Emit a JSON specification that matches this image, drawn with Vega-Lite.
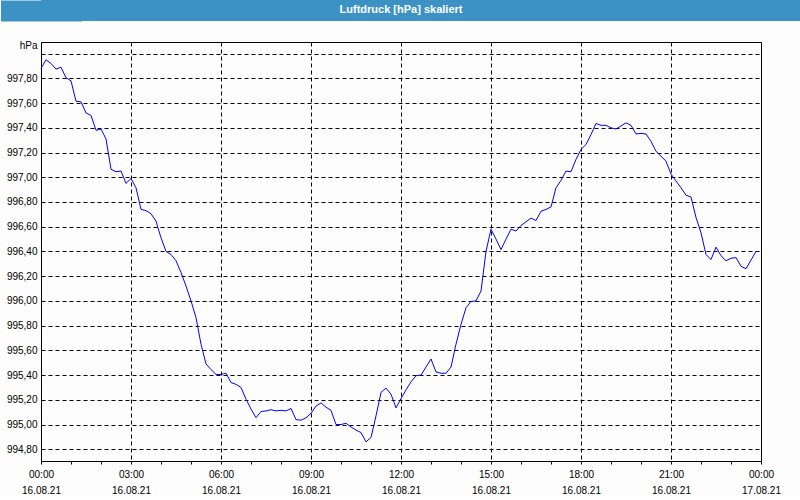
{
  "$schema": "https://vega.github.io/schema/vega-lite/v6.json",
  "padding": 0,
  "spacing": 18,
  "background": "#fcfdfc",
  "config": {"view": {"stroke": "#000", "strokeWidth": 1}},
  "vconcat": [
    {
      "width": 760,
      "height": 21,
      "view": {"stroke": null},
      "data": {"values": [{"title": "Luftdruck [hPa] skaliert"}]},
      "layer": [
        {"mark": {"type": "rect", "color": "#3d92c5"}, "encoding": {}},
        {"mark": {"type": "text", "color": "#ffffff", "font": "Liberation Sans", "fontSize": 11, "fontWeight": "bold", "align": "center", "baseline": "middle", "dx": -20, "dy": -1},
         "encoding": {
           "text": {"field": "title"},
           "y": {"field": "title", "type": "nominal", "axis": {"title": null, "labels": false, "ticks": false, "grid": false, "domain": true, "domainColor": "#3d92c5", "domainWidth": 81, "domainCap": "butt", "domainOpacity": 1}}
         }}
      ]
    },
    {
      "width": 720,
      "height": 419,
      "data": {"values": [
        {"t":"2021-08-16T00:00:00Z","p":997.88},{"t":"2021-08-16T00:10:00Z","p":997.95},{"t":"2021-08-16T00:20:00Z","p":997.92},{"t":"2021-08-16T00:30:00Z","p":997.875},{"t":"2021-08-16T00:40:00Z","p":997.89},{"t":"2021-08-16T00:50:00Z","p":997.805},
        {"t":"2021-08-16T01:00:00Z","p":997.78},{"t":"2021-08-16T01:10:00Z","p":997.615},{"t":"2021-08-16T01:20:00Z","p":997.61},{"t":"2021-08-16T01:30:00Z","p":997.52},{"t":"2021-08-16T01:40:00Z","p":997.5},{"t":"2021-08-16T01:50:00Z","p":997.38},
        {"t":"2021-08-16T02:00:00Z","p":997.39},{"t":"2021-08-16T02:10:00Z","p":997.31},{"t":"2021-08-16T02:20:00Z","p":997.065},{"t":"2021-08-16T02:30:00Z","p":997.045},{"t":"2021-08-16T02:40:00Z","p":997.05},{"t":"2021-08-16T02:50:00Z","p":996.95},
        {"t":"2021-08-16T03:00:00Z","p":996.99},{"t":"2021-08-16T03:10:00Z","p":996.915},{"t":"2021-08-16T03:20:00Z","p":996.74},{"t":"2021-08-16T03:30:00Z","p":996.73},{"t":"2021-08-16T03:40:00Z","p":996.705},{"t":"2021-08-16T03:50:00Z","p":996.645},
        {"t":"2021-08-16T04:00:00Z","p":996.51},{"t":"2021-08-16T04:10:00Z","p":996.4},{"t":"2021-08-16T04:20:00Z","p":996.375},{"t":"2021-08-16T04:30:00Z","p":996.325},{"t":"2021-08-16T04:40:00Z","p":996.23},{"t":"2021-08-16T04:50:00Z","p":996.12},
        {"t":"2021-08-16T05:00:00Z","p":996.0},{"t":"2021-08-16T05:10:00Z","p":995.865},{"t":"2021-08-16T05:20:00Z","p":995.65},{"t":"2021-08-16T05:30:00Z","p":995.49},{"t":"2021-08-16T05:40:00Z","p":995.445},{"t":"2021-08-16T05:50:00Z","p":995.405},
        {"t":"2021-08-16T06:00:00Z","p":995.405},{"t":"2021-08-16T06:10:00Z","p":995.415},{"t":"2021-08-16T06:20:00Z","p":995.34},{"t":"2021-08-16T06:30:00Z","p":995.325},{"t":"2021-08-16T06:40:00Z","p":995.3},{"t":"2021-08-16T06:50:00Z","p":995.205},
        {"t":"2021-08-16T07:00:00Z","p":995.125},{"t":"2021-08-16T07:10:00Z","p":995.055},{"t":"2021-08-16T07:20:00Z","p":995.105},{"t":"2021-08-16T07:30:00Z","p":995.11},{"t":"2021-08-16T07:40:00Z","p":995.12},{"t":"2021-08-16T07:50:00Z","p":995.11},
        {"t":"2021-08-16T08:00:00Z","p":995.115},{"t":"2021-08-16T08:10:00Z","p":995.11},{"t":"2021-08-16T08:20:00Z","p":995.13},{"t":"2021-08-16T08:30:00Z","p":995.04},{"t":"2021-08-16T08:40:00Z","p":995.035},{"t":"2021-08-16T08:50:00Z","p":995.055},
        {"t":"2021-08-16T09:00:00Z","p":995.09},{"t":"2021-08-16T09:10:00Z","p":995.15},{"t":"2021-08-16T09:20:00Z","p":995.175},{"t":"2021-08-16T09:30:00Z","p":995.14},{"t":"2021-08-16T09:40:00Z","p":995.115},{"t":"2021-08-16T09:50:00Z","p":995.0},
        {"t":"2021-08-16T10:00:00Z","p":995.0},{"t":"2021-08-16T10:10:00Z","p":995.01},{"t":"2021-08-16T10:20:00Z","p":994.98},{"t":"2021-08-16T10:30:00Z","p":994.955},{"t":"2021-08-16T10:40:00Z","p":994.935},{"t":"2021-08-16T10:50:00Z","p":994.86},
        {"t":"2021-08-16T11:00:00Z","p":994.895},{"t":"2021-08-16T11:10:00Z","p":995.07},{"t":"2021-08-16T11:20:00Z","p":995.26},{"t":"2021-08-16T11:30:00Z","p":995.295},{"t":"2021-08-16T11:40:00Z","p":995.245},{"t":"2021-08-16T11:50:00Z","p":995.135},
        {"t":"2021-08-16T12:00:00Z","p":995.21},{"t":"2021-08-16T12:10:00Z","p":995.28},{"t":"2021-08-16T12:20:00Z","p":995.345},{"t":"2021-08-16T12:30:00Z","p":995.395},{"t":"2021-08-16T12:40:00Z","p":995.4},{"t":"2021-08-16T12:50:00Z","p":995.465},
        {"t":"2021-08-16T13:00:00Z","p":995.53},{"t":"2021-08-16T13:10:00Z","p":995.425},{"t":"2021-08-16T13:20:00Z","p":995.415},{"t":"2021-08-16T13:30:00Z","p":995.415},{"t":"2021-08-16T13:40:00Z","p":995.465},{"t":"2021-08-16T13:50:00Z","p":995.65},
        {"t":"2021-08-16T14:00:00Z","p":995.81},{"t":"2021-08-16T14:10:00Z","p":995.945},{"t":"2021-08-16T14:20:00Z","p":995.995},{"t":"2021-08-16T14:30:00Z","p":996.0},{"t":"2021-08-16T14:40:00Z","p":996.08},{"t":"2021-08-16T14:50:00Z","p":996.4},
        {"t":"2021-08-16T15:00:00Z","p":996.58},{"t":"2021-08-16T15:10:00Z","p":996.5},{"t":"2021-08-16T15:20:00Z","p":996.415},{"t":"2021-08-16T15:30:00Z","p":996.5},{"t":"2021-08-16T15:40:00Z","p":996.58},{"t":"2021-08-16T15:50:00Z","p":996.565},
        {"t":"2021-08-16T16:00:00Z","p":996.61},{"t":"2021-08-16T16:10:00Z","p":996.64},{"t":"2021-08-16T16:20:00Z","p":996.67},{"t":"2021-08-16T16:30:00Z","p":996.65},{"t":"2021-08-16T16:40:00Z","p":996.725},{"t":"2021-08-16T16:50:00Z","p":996.74},
        {"t":"2021-08-16T17:00:00Z","p":996.76},{"t":"2021-08-16T17:10:00Z","p":996.915},{"t":"2021-08-16T17:20:00Z","p":996.975},{"t":"2021-08-16T17:30:00Z","p":997.05},{"t":"2021-08-16T17:40:00Z","p":997.045},{"t":"2021-08-16T17:50:00Z","p":997.145},
        {"t":"2021-08-16T18:00:00Z","p":997.225},{"t":"2021-08-16T18:10:00Z","p":997.265},{"t":"2021-08-16T18:20:00Z","p":997.345},{"t":"2021-08-16T18:30:00Z","p":997.435},{"t":"2021-08-16T18:40:00Z","p":997.42},{"t":"2021-08-16T18:50:00Z","p":997.42},
        {"t":"2021-08-16T19:00:00Z","p":997.4},{"t":"2021-08-16T19:10:00Z","p":997.39},{"t":"2021-08-16T19:20:00Z","p":997.415},{"t":"2021-08-16T19:30:00Z","p":997.44},{"t":"2021-08-16T19:40:00Z","p":997.42},{"t":"2021-08-16T19:50:00Z","p":997.35},
        {"t":"2021-08-16T20:00:00Z","p":997.355},{"t":"2021-08-16T20:10:00Z","p":997.35},{"t":"2021-08-16T20:20:00Z","p":997.29},{"t":"2021-08-16T20:30:00Z","p":997.21},{"t":"2021-08-16T20:40:00Z","p":997.17},{"t":"2021-08-16T20:50:00Z","p":997.13},
        {"t":"2021-08-16T21:00:00Z","p":997.025},{"t":"2021-08-16T21:10:00Z","p":996.97},{"t":"2021-08-16T21:20:00Z","p":996.915},{"t":"2021-08-16T21:30:00Z","p":996.855},{"t":"2021-08-16T21:40:00Z","p":996.84},{"t":"2021-08-16T21:50:00Z","p":996.675},
        {"t":"2021-08-16T22:00:00Z","p":996.55},{"t":"2021-08-16T22:10:00Z","p":996.375},{"t":"2021-08-16T22:20:00Z","p":996.335},{"t":"2021-08-16T22:30:00Z","p":996.435},{"t":"2021-08-16T22:40:00Z","p":996.365},{"t":"2021-08-16T22:50:00Z","p":996.325},
        {"t":"2021-08-16T23:00:00Z","p":996.345},{"t":"2021-08-16T23:10:00Z","p":996.35},{"t":"2021-08-16T23:20:00Z","p":996.28},{"t":"2021-08-16T23:30:00Z","p":996.26},{"t":"2021-08-16T23:40:00Z","p":996.33},{"t":"2021-08-16T23:50:00Z","p":996.4}
      ]},
      "mark": {"type": "line", "color": "#0000ff", "strokeWidth": 1},
      "encoding": {
        "x": {
          "field": "t",
          "type": "temporal",
          "scale": {"type": "utc", "nice": false, "domain": [1629072000000, 1629158400000]},
          "axis": {
            "title": null,
            "values": [1629072000000, 1629075600000, 1629079200000, 1629082800000, 1629086400000, 1629090000000, 1629093600000, 1629097200000, 1629100800000, 1629104400000, 1629108000000, 1629111600000, 1629115200000, 1629118800000, 1629122400000, 1629126000000, 1629129600000, 1629133200000, 1629136800000, 1629140400000, 1629144000000, 1629147600000, 1629151200000, 1629154800000, 1629158400000],
            "domain": false,
            "ticks": true,
            "tickSize": 3,
            "tickColor": "#000",
            "grid": true,
            "gridColor": "#000",
            "gridDash": [4, 3],
            "gridWidth": 1,
            "gridOpacity": {"condition": {"test": "(datum.value / 3600000) % 3 === 0", "value": 1}, "value": 0},
            "labelExpr": "(datum.value / 3600000) % 3 === 0 ? [utcFormat(datum.value, '%H:%M'), utcFormat(datum.value, '%d.%m.%y')] : ''",
            "labelOverlap": false,
            "labelFlush": false,
            "labelFont": "Liberation Sans",
            "labelFontSize": 10,
            "labelColor": "#000",
            "labelPadding": 5,
            "labelLineHeight": 16,
            "labelBaseline": "top"
          }
        },
        "y": {
          "field": "p",
          "type": "quantitative",
          "scale": {"domain": [994.705, 998.094], "nice": false, "zero": false},
          "axis": {
            "title": "hPa",
            "titleAngle": 0,
            "titleAlign": "right",
            "titleBaseline": "middle",
            "titleX": -4,
            "titleY": 3,
            "titleFont": "Liberation Sans",
            "titleFontSize": 10,
            "titleFontWeight": "normal",
            "titleColor": "#000",
            "values": [994.8, 995.0, 995.2, 995.4, 995.6, 995.8, 996.0, 996.2, 996.4, 996.6, 996.8, 997.0, 997.2, 997.4, 997.6, 997.8, 998.0],
            "labelExpr": "datum.value > 997.9 ? '' : replace(format(datum.value, '.2f'), '.', ',')",
            "domain": false,
            "ticks": false,
            "grid": true,
            "gridColor": "#000",
            "gridDash": [4, 3],
            "gridWidth": 1,
            "gridOpacity": 1,
            "labelFlush": false,
            "labelOverlap": false,
            "labelFont": "Liberation Sans",
            "labelFontSize": 10,
            "labelColor": "#000",
            "labelPadding": 4,
            "minExtent": 40,
            "maxExtent": 40
          }
        }
      }
    }
  ]
}
